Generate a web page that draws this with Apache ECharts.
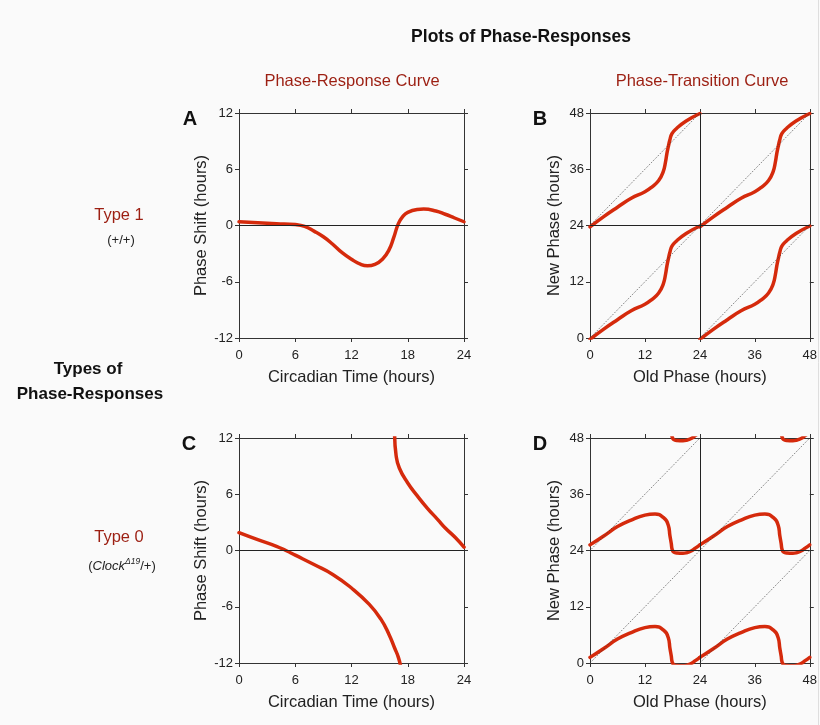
<!DOCTYPE html>
<html>
<head>
<meta charset="utf-8">
<title>Plots of Phase-Responses</title>
<script src="https://cdn.jsdelivr.net/npm/echarts@6/dist/echarts.min.js"></script>
<style>
  html, body { margin: 0; padding: 0; background: #fafafa; }
  #chart { width: 820px; height: 725px; }
</style>
</head>
<body>
<div id="chart"></div>
<script>
// Circadian period, hours
const period = 24;

// Type 1 (+/+) phase-response curve: circadian time (h) -> phase shift (h)
const prc1Time  = [0, 2, 4, 6, 7, 8, 9, 10, 11, 12, 13, 13.7, 14.5, 15.3, 16, 16.5, 17, 17.5, 18, 19, 19.7, 21, 22, 23, 24];
const prc1Shift = [0.4, 0.3, 0.2, 0.1, -0.1, -0.6, -1.2, -2.0, -2.9, -3.6, -4.15, -4.3, -4.15, -3.6, -2.6, -1.3, 0.2, 1.0, 1.4, 1.7, 1.75, 1.55, 1.2, 0.8, 0.4];

// Type 1 phase-transition curve over one cycle: old phase (h) -> new phase (h)
const ptc1Old = [0, 3, 6, 9, 12, 13.5, 15, 16, 16.5, 16.8, 17.1, 17.45, 17.9, 18.9, 21, 24];
const ptc1New = [-0.3, 1.9, 3.9, 5.8, 7.2, 8.2, 9.6, 11.5, 13.6, 15.4, 16.8, 18.3, 19.6, 20.7, 22.3, 23.9];

// Type 0 (Clock delta19/+) phase-response curve, split at the breakpoint
const prc0TimeA  = [0, 2, 4, 5, 6, 8, 10, 12, 13.9, 15.15, 16, 16.6, 17, 17.25];
const prc0ShiftA = [1.9, 1.15, 0.45, 0, -0.5, -1.5, -2.55, -4.0, -5.75, -7.35, -8.95, -10.4, -11.4, -12.4];
const prc0TimeB  = [16.6, 16.75, 17.1, 18, 19, 20.1, 21.2, 22, 23.1, 24];
const prc0ShiftB = [12.4, 10.2, 8.8, 7.2, 5.85, 4.5, 3.3, 2.4, 1.35, 0.35];

// Type 0 phase-transition curve over one cycle
const ptc0Old = [0, 3, 6, 9, 12, 14.2, 16, 17.1, 17.45, 17.75, 17.95, 18.3, 19, 20.3, 21, 22.1, 23, 24];
const ptc0New = [1.2, 3.1, 5.1, 6.5, 7.55, 7.8, 7.05, 5.4, 3.2, 1.5, 0.2, -0.35, -0.55, -0.6, -0.5, -0.1, 0.5, 1.2];

// Axis ranges and tick spacing
const prcX = { min: 0, max: 24, interval: 6 };
const prcY = { min: -12, max: 12, interval: 6 };
const ptcAxis = { min: 0, max: 48, interval: 12 };

const FONT = 'Liberation Sans, Arial, Helvetica, sans-serif';
const INK = '#222';
const FRAME = '#333';
const CURVE = '#d52a0c';
const HEAD = '#9c1f12';

const grids = [
  { left: 239, top: 113, width: 225, height: 225 },  // A
  { left: 590, top: 113, width: 225, height: 225 },  // B
  { left: 239, top: 438, width: 225, height: 225 },  // C
  { left: 590, top: 438, width: 225, height: 225 }   // D
];

function pair(xs, ys, dx, dy) {
  return xs.map((x, i) => [x + (dx || 0), ys[i] + (dy || 0)]);
}

const xAxes = [], yAxes = [];
function addAxes(g, xr, yr, xName, yName) {
  const line = { show: true, onZero: false, lineStyle: { color: FRAME, width: 1 } };
  const tick = { show: true, inside: false, length: 4, lineStyle: { color: FRAME, width: 1 } };
  const label = { fontSize: 13, color: INK, fontFamily: FONT };
  const nameStyle = { fontSize: 16.5, color: INK, fontFamily: FONT };
  xAxes.push({
    type: 'value', gridIndex: g, position: 'bottom', min: xr.min, max: xr.max, interval: xr.interval,
    name: xName, nameLocation: 'middle', nameGap: 31, nameTextStyle: nameStyle,
    axisLine: line, axisTick: tick, axisLabel: Object.assign({ margin: 11 }, label), splitLine: { show: false }
  });
  xAxes.push({
    type: 'value', gridIndex: g, position: 'top', min: xr.min, max: xr.max, interval: xr.interval,
    axisLine: line, axisTick: tick, axisLabel: { show: false }, splitLine: { show: false }
  });
  yAxes.push({
    type: 'value', gridIndex: g, position: 'left', min: yr.min, max: yr.max, interval: yr.interval,
    name: yName, nameLocation: 'middle', nameGap: 27, nameTextStyle: nameStyle,
    axisLine: line, axisTick: tick, axisLabel: Object.assign({ margin: 6 }, label), splitLine: { show: false }
  });
  yAxes.push({
    type: 'value', gridIndex: g, position: 'right', min: yr.min, max: yr.max, interval: yr.interval,
    axisLine: line, axisTick: tick, axisLabel: { show: false }, splitLine: { show: false }
  });
}
addAxes(0, prcX, prcY, 'Circadian Time (hours)', 'Phase Shift (hours)');
addAxes(1, ptcAxis, ptcAxis, 'Old Phase (hours)', 'New Phase (hours)');
addAxes(2, prcX, prcY, 'Circadian Time (hours)', 'Phase Shift (hours)');
addAxes(3, ptcAxis, ptcAxis, 'Old Phase (hours)', 'New Phase (hours)');

function curve(g, data, markLine) {
  const s = {
    type: 'line', xAxisIndex: 2 * g, yAxisIndex: 2 * g, data: data,
    showSymbol: false, symbol: 'none', smooth: 0.5, clip: true,
    lineStyle: { color: CURVE, width: 3.5, cap: 'round', join: 'round' }, z: 3
  };
  if (markLine) s.markLine = markLine;
  return s;
}

// Zero-shift reference line for the PRC panels
const zeroLine = {
  silent: true, symbol: 'none', label: { show: false }, animation: false,
  lineStyle: { color: INK, width: 1, type: 'solid' },
  data: [{ yAxis: 0 }]
};

// Cycle boundaries plus the dotted identity lines for the PTC panels
function ptcGuides() {
  const data = [
    { xAxis: period, lineStyle: { color: INK, width: 1, type: 'solid' } },
    { yAxis: period, lineStyle: { color: INK, width: 1, type: 'solid' } }
  ];
  for (let i = 0; i < 2; i++) {
    for (let j = 0; j < 2; j++) {
      data.push([
        { coord: [i * period, j * period], lineStyle: { color: '#333', width: 0.8, type: [1, 1.5] } },
        { coord: [(i + 1) * period, (j + 1) * period] }
      ]);
    }
  }
  return { silent: true, symbol: 'none', label: { show: false }, animation: false, data: data };
}

const series = [];
series.push(curve(0, pair(prc1Time, prc1Shift), zeroLine));
// Type 1 PTC, repeated over two cycles in both directions
[0, period].forEach((dx, i) => {
  [0, period].forEach((dy, j) => {
    series.push(curve(1, pair(ptc1Old, ptc1New, dx, dy), (i === 0 && j === 0) ? ptcGuides() : null));
  });
});
series.push(curve(2, pair(prc0TimeA, prc0ShiftA), zeroLine));
series.push(curve(2, pair(prc0TimeB, prc0ShiftB)));
// Type 0 PTC wraps across the cycle boundary, so a third vertical copy is drawn
[0, period].forEach((dx, i) => {
  [0, period, 2 * period].forEach((dy, j) => {
    series.push(curve(3, pair(ptc0Old, ptc0New, dx, dy), (i === 0 && j === 0) ? ptcGuides() : null));
  });
});

function txt(x, y, text, font, color, extra) {
  return Object.assign({
    type: 'text', x: x, y: y, silent: true,
    style: { text: text, font: font, fill: color, align: 'center', verticalAlign: 'middle' }
  }, extra || {});
}

const graphics = [
  txt(521, 37, 'Plots of Phase-Responses', 'bold 17.5px ' + FONT, '#111'),
  txt(352, 81, 'Phase-Response Curve', '16.5px ' + FONT, HEAD),
  txt(702, 81, 'Phase-Transition Curve', '16.5px ' + FONT, HEAD),
  txt(190, 119, 'A', 'bold 20px ' + FONT, '#111'),
  txt(540, 119, 'B', 'bold 20px ' + FONT, '#111'),
  txt(189, 444, 'C', 'bold 20px ' + FONT, '#111'),
  txt(540, 444, 'D', 'bold 20px ' + FONT, '#111'),
  txt(119, 215, 'Type 1', '16.5px ' + FONT, HEAD),
  txt(121, 240, '(+/+)', '13px ' + FONT, INK),
  txt(88, 369, 'Types of', 'bold 17px ' + FONT, '#111'),
  txt(90, 394, 'Phase-Responses', 'bold 17px ' + FONT, '#111'),
  txt(119, 537, 'Type 0', '16.5px ' + FONT, HEAD),
  {
    type: 'text', x: 122, y: 566, silent: true,
    style: {
      text: '{n|(}{i|Clock}{s|Δ19}{n|/+)}',
      align: 'center', verticalAlign: 'middle',
      rich: {
        n: { font: '13px ' + FONT, fill: INK },
        i: { font: 'italic 13px ' + FONT, fill: INK },
        s: { font: 'italic 8.5px ' + FONT, fill: INK, padding: [0, 0, 8, 0] }
      }
    }
  },
  { type: 'line', silent: true, shape: { x1: 818.5, y1: 0, x2: 818.5, y2: 725 }, style: { stroke: '#dedede', lineWidth: 1 } }
];

const chart = echarts.init(document.getElementById('chart'), null, { renderer: 'canvas' });
chart.setOption({
  backgroundColor: '#fafafa',
  animation: false,
  grid: grids,
  xAxis: xAxes,
  yAxis: yAxes,
  series: series,
  graphic: graphics
});
</script>
</body>
</html>
